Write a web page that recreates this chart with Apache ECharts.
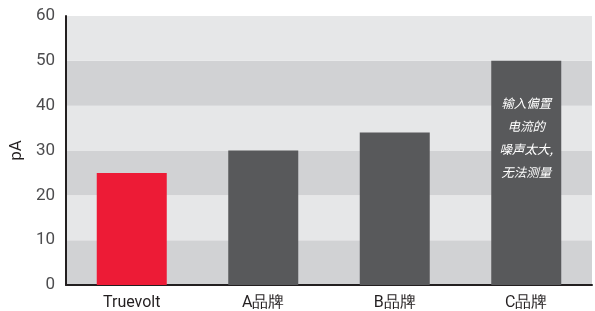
<!DOCTYPE html>
<html><head><meta charset="utf-8">
<script src="https://cdn.jsdelivr.net/npm/echarts@6/dist/echarts.min.js"></script>
<style>html,body{margin:0;padding:0;background:#fff}#c{width:595px;height:311px}</style>
</head><body><div id="c"></div>
<script>
const categories = ['Truevolt', 'A品牌', 'B品牌', 'C品牌'];
const values = [25, 30, 34, 50];
const barColors = ['#ed1b36', '#58595b', '#58595b', '#58595b'];
const yTicks = [0, 10, 20, 30, 40, 50, 60];
const noteText = '输入偏置\n电流的\n噪声太大,\n无法测量';
const chart = echarts.init(document.getElementById('c'), null, {renderer: 'canvas'});
chart.setOption({
  animation: false,
  grid: {left: 65, right: 3, top: 16, bottom: 26},
  xAxis: {
    type: 'category', data: categories,
    axisLine: {lineStyle: {color: '#231f20', width: 2}},
    axisTick: {show: false},
    axisLabel: {color: '#231f20', fontSize: 16, fontFamily: 'Roboto', margin: 10}
  },
  yAxis: {
    type: 'value', min: yTicks[0], max: yTicks[yTicks.length-1], interval: 10,
    name: 'pA', nameLocation: 'middle', nameGap: 37, nameRotate: 90,
    nameTextStyle: {color: '#231f20', fontSize: 17, fontFamily: 'Roboto'},
    axisLine: {show: true, lineStyle: {color: '#231f20', width: 2}},
    axisTick: {show: false},
    splitLine: {show: false},
    splitArea: {show: true, areaStyle: {color: ['#d1d2d4', '#e6e7e8']}},
    axisLabel: {color: '#4d4d4f', fontSize: 17, fontFamily: 'Roboto', margin: 11}
  },
  series: [{
    type: 'bar', barWidth: 70,
    data: values.map((v, i) => ({
      value: v,
      itemStyle: {color: barColors[i]},
      label: i === 3 ? {
        show: true, formatter: noteText, position: ['50%', '34.5%'],
        align: 'center', verticalAlign: 'middle',
        color: '#ffffff', fontStyle: 'italic', fontSize: 12.5, lineHeight: 23,
        fontFamily: 'Noto Sans CJK SC'
      } : {show: false}
    }))
  }]
});
</script></body></html>
